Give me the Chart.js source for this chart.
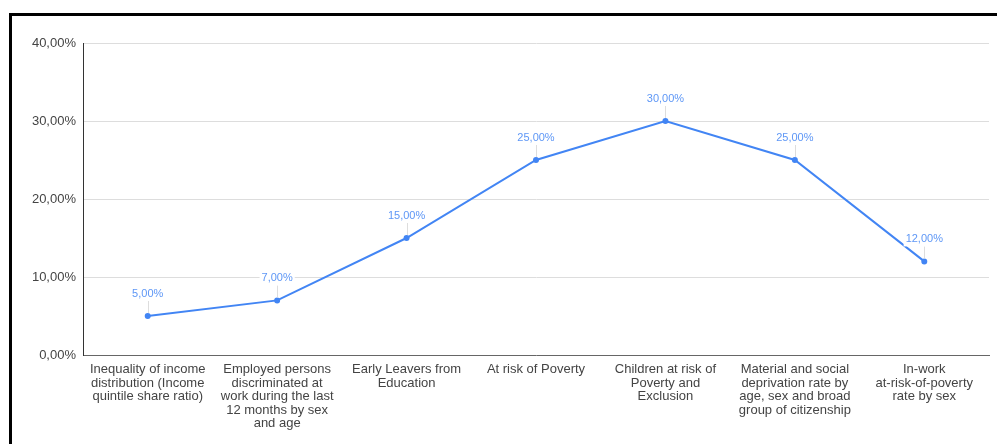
<!DOCTYPE html>
<html>
<head>
<meta charset="utf-8">
<script src="https://cdn.jsdelivr.net/npm/chart.js@4"></script>
<style>
  html, body { margin: 0; padding: 0; background: #fff; overflow: hidden; }
  #frame {
    position: absolute; left: 9px; top: 13px; width: 1100px; height: 500px;
    border-top: 3px solid #000; border-left: 3px solid #000;
  }
  #chart { position: absolute; left: 0; top: 0; }
</style>
</head>
<body>
<div id="frame"></div>
<canvas id="chart" width="997" height="444"></canvas>
<script>
"use strict";

const categories = [
  ["Inequality of income", "distribution (Income", "quintile share ratio)"],
  ["Employed persons", "discriminated at", "work during the last", "12 months by sex", "and age"],
  ["Early Leavers from", "Education"],
  ["At risk of Poverty"],
  ["Children at risk of", "Poverty and", "Exclusion"],
  ["Material and social", "deprivation rate by", "age, sex and broad", "group of citizenship"],
  ["In-work", "at-risk-of-poverty", "rate by sex"]
];
const values = [5, 7, 15, 25, 30, 25, 12];
const yTicks = [0, 10, 20, 30, 40];

function pct(v) {
  return v.toFixed(2).replace(".", ",") + "%";
}

// value labels above each point, with a thin leader line down to the marker
const pointLabels = {
  id: "pointLabels",
  afterDatasetsDraw(chart) {
    const ctx = chart.ctx;
    const meta = chart.getDatasetMeta(0);
    ctx.save();
    ctx.font = "11px 'Liberation Sans', Arial, sans-serif";
    ctx.textAlign = "center";
    ctx.textBaseline = "middle";
    meta.data.forEach((pt, i) => {
      const text = pct(values[i]);
      const ly = pt.y - 22;
      const w = ctx.measureText(text).width;
      ctx.strokeStyle = "#dddddd";
      ctx.lineWidth = 1;
      ctx.beginPath();
      ctx.moveTo(Math.round(pt.x) + 0.5, ly + 7);
      ctx.lineTo(Math.round(pt.x) + 0.5, pt.y - 3);
      ctx.stroke();
      ctx.fillStyle = "#ffffff";
      ctx.fillRect(pt.x - w / 2 - 2, ly - 7, w + 4, 14);
      ctx.fillStyle = "#5e97f6";
      ctx.fillText(text, pt.x, ly);
    });
    ctx.restore();
  }
};

new Chart(document.getElementById("chart").getContext("2d"), {
  type: "line",
  data: {
    labels: categories,
    datasets: [{
      data: values,
      borderColor: "#4285f4",
      backgroundColor: "#4285f4",
      borderWidth: 2,
      pointRadius: 2,
      pointHoverRadius: 2,
      tension: 0
    }]
  },
  options: {
    responsive: false,
    animation: false,
    layout: { padding: { top: 43, right: 8, left: 0, bottom: 0 } },
    plugins: { legend: { display: false }, tooltip: { enabled: false } },
    scales: {
      x: {
        offset: true,
        grid: { display: false, drawTicks: false },
        border: { color: "#666666", width: 1 },
        ticks: {
          color: "#444444",
          padding: 8,
          maxRotation: 0,
          autoSkip: false,
          font: { family: "'Liberation Sans', Arial, sans-serif", size: 13, lineHeight: 1.04 }
        },
        afterFit: s => { s.height = 89; }
      },
      y: {
        min: 0,
        max: 40,
        afterBuildTicks: s => { s.ticks = yTicks.map(v => ({ value: v })); },
        grid: { color: "#dddddd", drawTicks: false },
        border: { color: "#333333", width: 1 },
        ticks: {
          color: "#444444",
          padding: 7,
          callback: v => pct(v),
          font: { family: "'Liberation Sans', Arial, sans-serif", size: 13 }
        },
        afterFit: s => { s.width = 83; }
      }
    }
  },
  plugins: [pointLabels]
});
</script>
</body>
</html>
